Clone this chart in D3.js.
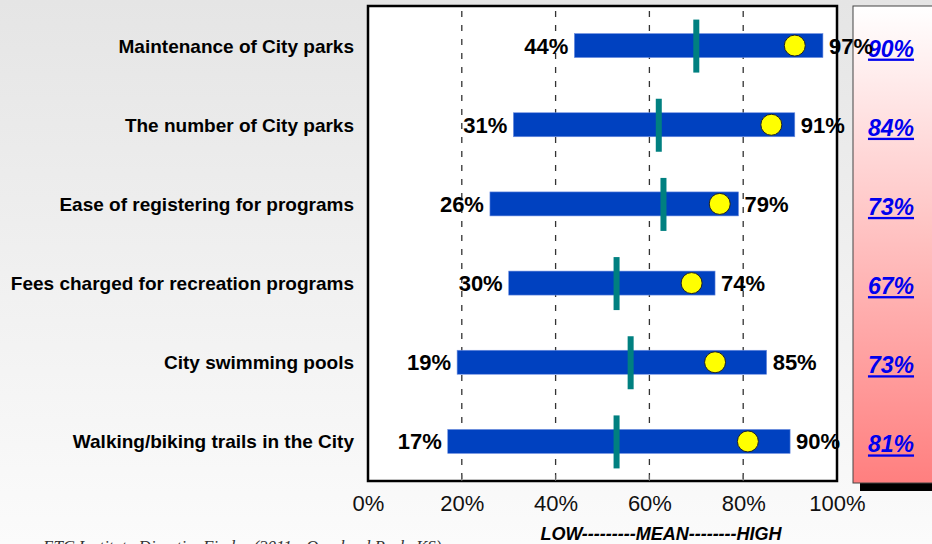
<!DOCTYPE html>
<html>
<head>
<meta charset="utf-8">
<script src="https://cdn.jsdelivr.net/npm/d3@7"></script>
<style>
  body { margin: 0; overflow: hidden; }
  svg { display: block; }
</style>
</head>
<body>
<svg width="932" height="544"></svg>
<script>
var categories = [
  "Maintenance of City parks",
  "The number of City parks",
  "Ease of registering for programs",
  "Fees charged for recreation programs",
  "City swimming pools",
  "Walking/biking trails in the City"
];
var lowValues = [44, 31, 26, 30, 19, 17];
var highValues = [97, 91, 79, 74, 85, 90];
var meanValues = [70, 62, 63, 53, 56, 53];
var cityValues = [91, 86, 75, 69, 74, 81];
var panelValues = [90, 84, 73, 67, 73, 81];
var tickValues = [0, 20, 40, 60, 80, 100];

var svg = d3.select("svg");
var defs = svg.append("defs");

var bg = defs.append("linearGradient").attr("id", "bg").attr("x1", 0).attr("y1", 0).attr("x2", 0).attr("y2", 1);
bg.append("stop").attr("offset", "0%").attr("stop-color", "#e5e5e5");
bg.append("stop").attr("offset", "100%").attr("stop-color", "#fbfbfb");

var pink = defs.append("linearGradient").attr("id", "pink").attr("x1", 0).attr("y1", 0).attr("x2", 0).attr("y2", 1);
pink.append("stop").attr("offset", "0%").attr("stop-color", "#ffffff");
pink.append("stop").attr("offset", "100%").attr("stop-color", "#ff7f7f");

svg.append("rect").attr("width", 932).attr("height", 544).attr("fill", "url(#bg)");

var plotLeft = 368, plotRight = 837, plotTop = 6, plotBottom = 481;

var x = d3.scaleLinear().domain([0, 100]).range([plotLeft, plotRight]);
var y = d3.scaleBand().domain(categories).range([plotTop, plotBottom]);
function rowY(i) { return y(categories[i]) + y.bandwidth() / 2; }

// plot area
svg.append("rect").attr("x", plotLeft).attr("y", plotTop)
  .attr("width", plotRight - plotLeft).attr("height", plotBottom - plotTop)
  .attr("fill", "white");

// dashed grid lines
svg.selectAll(".grid").data([20, 40, 60, 80]).enter().append("line")
  .attr("x1", function (d) { return x(d); })
  .attr("x2", function (d) { return x(d); })
  .attr("y1", plotTop + 5).attr("y2", plotBottom)
  .attr("stroke", "#333").attr("stroke-width", 1.3)
  .attr("stroke-dasharray", "6,8");

// bars
var rows = svg.selectAll(".row").data(categories).enter().append("g")
  .attr("transform", function (d, i) { return "translate(0," + rowY(i) + ")"; });

rows.append("rect")
  .attr("x", function (d, i) { return x(lowValues[i]); })
  .attr("y", -12)
  .attr("width", function (d, i) { return x(highValues[i]) - x(lowValues[i]); })
  .attr("height", 24)
  .attr("fill", "#0041c0")
  .attr("stroke", "#6f8fe0").attr("stroke-width", 0.6);

rows.append("rect")
  .attr("x", function (d, i) { return x(meanValues[i]) - 3; })
  .attr("y", -26)
  .attr("width", 6)
  .attr("height", 53)
  .attr("fill", "#008080");

rows.append("circle")
  .attr("cx", function (d, i) { return x(cityValues[i]); })
  .attr("cy", 0)
  .attr("r", 10.5)
  .attr("fill", "#ffff00")
  .attr("stroke", "#222").attr("stroke-width", 1);

rows.append("text")
  .attr("x", function (d, i) { return x(lowValues[i]) - 6; })
  .attr("y", 8)
  .attr("text-anchor", "end")
  .style("font", "bold 22px Arial, 'Liberation Sans', sans-serif")
  .text(function (d, i) { return lowValues[i] + "%"; });

rows.append("text")
  .attr("x", 354)
  .attr("y", 7)
  .attr("text-anchor", "end")
  .style("font", "bold 19px Arial, 'Liberation Sans', sans-serif")
  .text(function (d) { return d; });

// plot border
svg.append("rect").attr("x", plotLeft).attr("y", plotTop)
  .attr("width", plotRight - plotLeft).attr("height", plotBottom - plotTop)
  .attr("fill", "none").attr("stroke", "black").attr("stroke-width", 2.5);

// x axis
var xAxis = d3.axisBottom(x).tickValues(tickValues)
  .tickFormat(function (d) { return d + "%"; })
  .tickSize(0).tickPadding(14);
var ax = svg.append("g").attr("transform", "translate(0," + plotBottom + ")").call(xAxis);
ax.select(".domain").remove();
ax.selectAll("text").style("font", "22px Arial, 'Liberation Sans', sans-serif").attr("fill", "#111");
svg.selectAll(".tickin").data([20, 40, 60, 80]).enter().append("line")
  .attr("x1", function (d) { return x(d); }).attr("x2", function (d) { return x(d); })
  .attr("y1", plotBottom - 6).attr("y2", plotBottom)
  .attr("stroke", "#666").attr("stroke-width", 1);

svg.append("text").attr("x", 661).attr("y", 540).attr("text-anchor", "middle")
  .style("font", "italic bold 18px Arial, 'Liberation Sans', sans-serif")
  .text("LOW---------MEAN--------HIGH");

// right panel
svg.append("rect").attr("x", 860).attr("y", 483).attr("width", 80).attr("height", 8).attr("fill", "black");
svg.append("rect").attr("x", 853).attr("y", 6).attr("width", 90).attr("height", 477)
  .attr("fill", "url(#pink)").attr("stroke", "#444").attr("stroke-width", 1);

svg.selectAll(".city").data(panelValues).enter().append("text")
  .attr("x", 891)
  .attr("y", function (d, i) { return rowY(i) + 11; })
  .attr("text-anchor", "middle")
  .attr("fill", "#0000ee")
  .attr("text-decoration", "underline")
  .style("font", "italic bold 23px Arial, 'Liberation Sans', sans-serif")
  .text(function (d) { return d + "%"; });

// high labels drawn last, they spill over the panel
svg.selectAll(".high").data(highValues).enter().append("text")
  .attr("x", function (d) { return x(d) + 6; })
  .attr("y", function (d, i) { return rowY(i) + 8; })
  .style("font", "bold 22px Arial, 'Liberation Sans', sans-serif")
  .text(function (d) { return d + "%"; });

// source note, cut off at bottom edge
svg.append("text").attr("x", 43).attr("y", 552)
  .style("font", "italic 17px 'Liberation Serif', 'DejaVu Serif', serif")
  .attr("fill", "#333")
  .text("ETC Institute DirectionFinder (2011 - Overland Park, KS)");
</script>
</body>
</html>
